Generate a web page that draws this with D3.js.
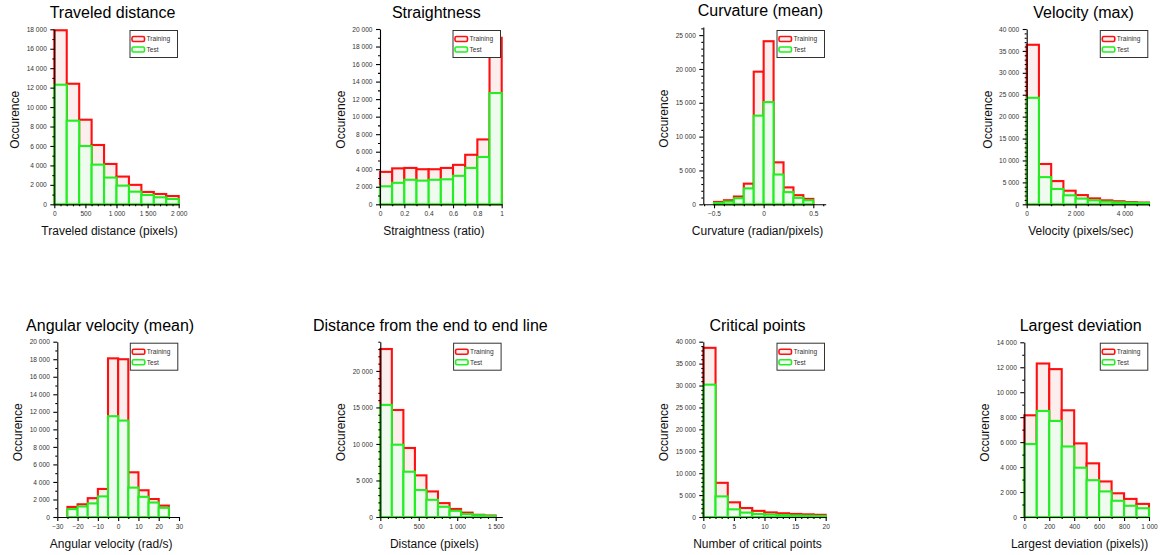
<!DOCTYPE html>
<html><head><meta charset="utf-8">
<script src="https://cdn.jsdelivr.net/npm/d3@7"></script>
<style>
body{margin:0;background:#fff}
svg{display:block}
text{font-family:"Liberation Sans",Arial,Helvetica,sans-serif}
</style>
</head><body>
<svg id="chart" width="1160" height="555"></svg>
<script>
// ---------------- DATA ----------------
const titles = ["Traveled distance","Straightness","Curvature (mean)","Velocity (max)",
  "Angular velocity (mean)","Distance from the end to end line","Critical points","Largest deviation"];
const xAxisLabels = ["Traveled distance (pixels)","Straightness (ratio)","Curvature (radian/pixels)","Velocity (pixels/sec)",
  "Angular velocity (rad/s)","Distance (pixels)","Number of critical points","Largest deviation (pixels))"];
const yAxisLabel = "Occurence";
const seriesNames = ["Training","Test"];

// 1 Traveled distance
const travelBins = [0,200,400,600,800,1000,1200,1400,1600,1800,2000];
const travelTraining = [17900,12400,8700,6100,4150,2850,2000,1270,1060,850];
const travelTest = [12300,8600,6000,4080,2750,1920,1300,960,720,550];
const travelXTicks = [0,500,1000,1500,2000];
const travelYTicks = [0,2000,4000,6000,8000,10000,12000,14000,16000,18000];

// 2 Straightness
const straightBins = [0,0.1,0.2,0.3,0.4,0.5,0.6,0.7,0.8,0.9,1];
const straightTraining = [3700,4100,4150,4000,4000,4150,4500,5650,7400,19000];
const straightTest = [2050,2450,2800,2700,2800,2850,3250,4150,5400,12700];
const straightXTicks = [0,0.2,0.4,0.6,0.8,1];
const straightYTicks = [0,2000,4000,6000,8000,10000,12000,14000,16000,18000,20000];

// 3 Curvature (mean)
const curvBins = [-0.5,-0.4,-0.3,-0.2,-0.1,0,0.1,0.2,0.3,0.4,0.5];
const curvTraining = [350,600,1150,3050,19600,24100,6200,2500,1350,800];
const curvTest = [200,400,900,2350,13100,15100,4400,1800,950,600];
const curvXTicks = [-0.5,0,0.5];
const curvYTicks = [0,5000,10000,15000,20000,25000];

// 4 Velocity (max)
const velBins = [0,500,1000,1500,2000,2500,3000,3500,4000,4500,5000];
const velTraining = [36400,9200,5300,3100,2100,1350,900,700,500,400];
const velTest = [24300,6200,3500,2050,1300,900,600,450,350,300];
const velXTicks = [0,2000,4000];
const velYTicks = [0,5000,10000,15000,20000,25000,30000,35000,40000];

// 5 Angular velocity (mean)
const angBins = [-25,-20,-15,-10,-5,0,5,10,15,20,25];
const angTraining = [1150,1450,2150,3200,18100,18000,5100,3050,2050,1300];
const angTest = [900,1200,1550,2350,11500,11000,3350,2300,1650,1050];
const angXTicks = [-30,-20,-10,0,10,20,30];
const angYTicks = [0,2000,4000,6000,8000,10000,12000,14000,16000,18000,20000];

// 6 Distance from the end to end line
const distBins = [0,150,300,450,600,750,900,1050,1200,1350,1500];
const distTraining = [23000,14650,9450,5700,3500,1900,1100,600,300,200];
const distTest = [15350,9900,6200,3700,2350,1400,850,400,250,150];
const distXTicks = [0,500,1000,1500];
const distYTicks = [0,5000,10000,15000,20000];

// 7 Critical points
const critBins = [0,2,4,6,8,10,12,14,16,18,20];
const critTraining = [38600,7800,3350,2050,1400,1050,850,700,600,500];
const critTest = [30200,4700,1750,1000,700,550,450,350,300,250];
const critXTicks = [0,5,10,15,20];
const critYTicks = [0,5000,10000,15000,20000,25000,30000,35000,40000];

// 8 Largest deviation
const devBins = [0,100,200,300,400,500,600,700,800,900,1000];
const devTraining = [8150,12300,11850,8550,5900,4300,2850,1900,1450,1050];
const devTest = [5850,8500,7700,5650,3950,2950,2050,1300,900,700];
const devXTicks = [0,200,400,600,800,1000];
const devYTicks = [0,2000,4000,6000,8000,10000,12000,14000];

// ---------------- LAYOUT (positions / scales only) ----------------
const layout = [
  {x0:54.3,  x1:178.7, top:29.3,  bottom:204.3, xDom:[0,2000],        yMax:18000, yMinor:1, xMinor:4, tShift:-4},
  {x0:380,   x1:501.7, top:29,    bottom:204.3, xDom:[0,1],           yMax:20000, yMinor:1, xMinor:1, tShift:-4.5},
  {x0:703.3, x1:825.7, top:27,    bottom:204.3, xDom:[-0.608,0.625],  yMax:26200, yMinor:4, xMinor:4, tShift:-4},
  {x0:1026.7,x1:1149,  top:29,    bottom:204.3, xDom:[0,5000],        yMax:40000, yMinor:4, xMinor:3, tShift:-4.3},
  {x0:57.3,  x1:179,   top:341.7, bottom:517,   xDom:[-30,30],        yMax:20000, yMinor:1, xMinor:1, tShift:-8},
  {x0:380.3, x1:502.3, top:341.7, bottom:517,   xDom:[0,1586],        yMax:24000, yMinor:4, xMinor:4, tShift:-11},
  {x0:703.3, x1:825.7, top:341.7, bottom:517,   xDom:[0,20],          yMax:40000, yMinor:4, xMinor:4, tShift:-7},
  {x0:1024.3,x1:1149,  top:342.3, bottom:517,   xDom:[0,1000],        yMax:14000, yMinor:1, xMinor:1, tShift:-6}
];

const panelData = [
  {bins:travelBins,   train:travelTraining,   test:travelTest,   xt:travelXTicks,   yt:travelYTicks},
  {bins:straightBins, train:straightTraining, test:straightTest, xt:straightXTicks, yt:straightYTicks},
  {bins:curvBins,     train:curvTraining,     test:curvTest,     xt:curvXTicks,     yt:curvYTicks},
  {bins:velBins,      train:velTraining,      test:velTest,      xt:velXTicks,      yt:velYTicks},
  {bins:angBins,      train:angTraining,      test:angTest,      xt:angXTicks,      yt:angYTicks},
  {bins:distBins,     train:distTraining,     test:distTest,     xt:distXTicks,     yt:distYTicks},
  {bins:critBins,     train:critTraining,     test:critTest,     xt:critXTicks,     yt:critYTicks},
  {bins:devBins,      train:devTraining,      test:devTest,      xt:devXTicks,      yt:devYTicks}
];

const RED = "#ff1010", GREEN = "#22ee22";
const RED_FILL = "#fdeeee", GREEN_FILL = "#f0fbf0";
const fmt = v => d3.format(",")(v).replace(/,/g, "\u2009\u2009").replace("\u2009\u2009"," ");
const fmtTick = v => d3.format(",")(v).replace(/,/g, " ");

const svg = d3.select("#chart");

function minorTicks(ticks, n, dom) {
  const out = [];
  if (n <= 0) return out;
  const step = (ticks[1] - ticks[0]) / (n + 1);
  const lo = Math.min(dom[0], dom[1]), hi = Math.max(dom[0], dom[1]);
  for (let v = ticks[0] - step * (n + 1); v <= hi + 1e-9; v += step) {
    const isMajor = ticks.some(t => Math.abs(t - v) < step * 1e-3);
    if (!isMajor && v >= lo - 1e-9) out.push(+v.toFixed(6));
  }
  return out;
}

panelData.forEach((p, i) => {
  const L = layout[i];
  const g = svg.append("g");
  const x = d3.scaleLinear().domain(L.xDom).range([L.x0, L.x1]);
  const y = d3.scaleLinear().domain([0, L.yMax]).range([L.bottom, L.top]);

  const series = [
    {vals:p.train, stroke:RED, fill:RED_FILL},
    {vals:p.test,  stroke:GREEN, fill:GREEN_FILL}
  ];
  series.forEach(s => {
    g.append("g").selectAll("rect").data(s.vals).join("rect")
      .attr("x", (d, j) => x(p.bins[j]))
      .attr("width", (d, j) => x(p.bins[j + 1]) - x(p.bins[j]))
      .attr("y", d => y(d))
      .attr("height", d => y(0) - y(d))
      .attr("fill", s.fill)
      .attr("stroke", s.stroke)
      .attr("stroke-width", 2.1);
  });

  // Y axis
  const yMinorVals = minorTicks(p.yt, L.yMinor, [0, L.yMax]);
  const yMin = g.append("g").attr("transform", `translate(${L.x0},0)`)
    .call(d3.axisLeft(y).tickValues(yMinorVals).tickSize(2).tickSizeOuter(0).tickFormat(""));
  yMin.select(".domain").remove();
  const yAx = g.append("g").attr("transform", `translate(${L.x0},0)`)
    .call(d3.axisLeft(y).tickValues(p.yt).tickSize(4).tickSizeOuter(0).tickPadding(3.5).tickFormat(fmtTick));
  // X axis
  const xMinorVals = minorTicks(p.xt, L.xMinor, L.xDom);
  const xMin = g.append("g").attr("transform", `translate(0,${L.bottom})`)
    .call(d3.axisBottom(x).tickValues(xMinorVals).tickSize(2).tickSizeOuter(0).tickFormat(""));
  xMin.select(".domain").remove();
  const xAx = g.append("g").attr("transform", `translate(0,${L.bottom})`)
    .call(d3.axisBottom(x).tickValues(p.xt).tickSize(4).tickSizeOuter(0).tickPadding(3.4).tickFormat(fmtTick));

  [yMin, yAx, xMin, xAx].forEach(a => {
    a.selectAll("path,line").attr("stroke", "#000").attr("stroke-width", 1.1);
    a.selectAll("text").attr("font-size", 6.6).attr("fill", "#333")
      .attr("font-family", '"Liberation Sans",Arial,sans-serif');
  });

  const cx = (L.x0 + L.x1) / 2;
  // Title
  g.append("text").attr("x", cx + L.tShift).attr("y", L.top - 11)
    .attr("text-anchor", "middle").attr("font-size", 16).attr("fill", "#000")
    .text(titles[i]);
  // X label
  g.append("text").attr("x", cx - 7).attr("y", L.bottom + 31)
    .attr("text-anchor", "middle").attr("font-size", 12).attr("fill", "#111")
    .text(xAxisLabels[i]);
  // Y label
  const ly = (L.top + L.bottom) / 2 + 3;
  g.append("text").attr("transform", `translate(${L.x0 - 35},${ly}) rotate(-90)`)
    .attr("text-anchor", "middle").attr("font-size", 12).attr("fill", "#111")
    .text(yAxisLabel);

  // Legend
  const bw = 47.5, bh = 27;
  const bx = L.x1 - 1.2 - bw, by = (i < 4 ? 29 : 341.7) + 1.5;
  const lg = g.append("g");
  lg.append("rect").attr("x", bx).attr("y", by).attr("width", bw).attr("height", bh)
    .attr("fill", "#fff").attr("stroke", "#333").attr("stroke-width", 1);
  const legItems = [{name:seriesNames[0], stroke:RED, fill:RED_FILL},
                    {name:seriesNames[1], stroke:GREEN, fill:GREEN_FILL}];
  legItems.forEach((it, k) => {
    const yy = by + 8.5 + k * 10.5;
    lg.append("rect").attr("x", bx + 2).attr("y", yy - 2.5).attr("width", 12.5).attr("height", 5)
      .attr("rx", 1.5).attr("fill", it.fill).attr("stroke", it.stroke).attr("stroke-width", 1.6);
    lg.append("text").attr("x", bx + 16.5).attr("y", yy + 2.3)
      .attr("font-size", 6.6).attr("fill", "#333").text(it.name);
  });
});
</script>
</body></html>
